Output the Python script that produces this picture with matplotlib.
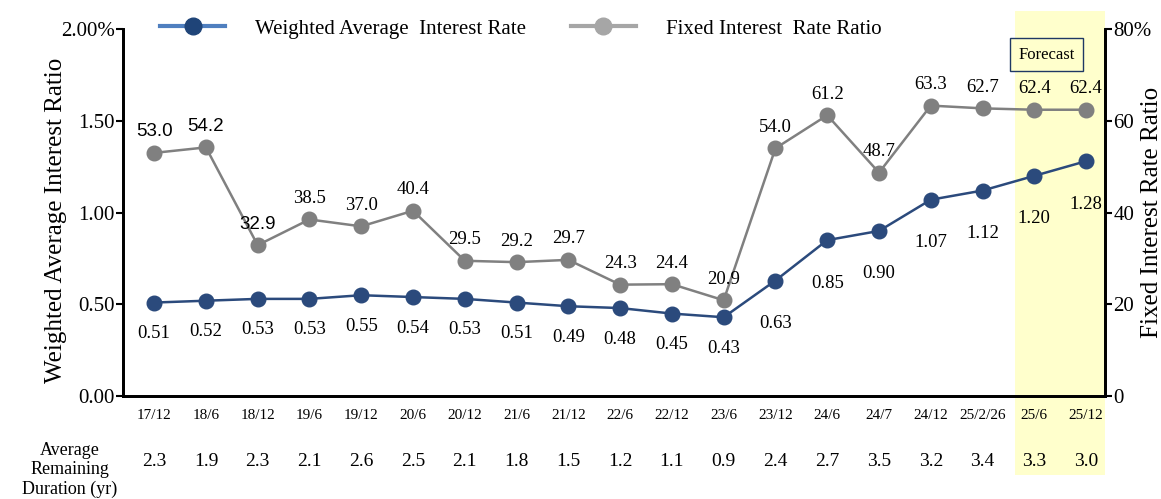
import matplotlib
matplotlib.use('Agg')
import matplotlib.pyplot as plt
import matplotlib.transforms as mtransforms
from matplotlib.lines import Line2D
from matplotlib.patches import Rectangle
import numpy as np

# ── DATA ────────────────────────────────────────────
periods = ["17/12", "18/6", "18/12", "19/6", "19/12", "20/6", "20/12", "21/6", "21/12",
           "22/6", "22/12", "23/6", "23/12", "24/6", "24/7", "24/12", "25/2/26", "25/6", "25/12"]
weighted_rate = [0.51, 0.52, 0.53, 0.53, 0.55, 0.54, 0.53, 0.51, 0.49, 0.48, 0.45, 0.43,
                 0.63, 0.85, 0.90, 1.07, 1.12, 1.20, 1.28]
fixed_ratio = [53.0, 54.2, 32.9, 38.5, 37.0, 40.4, 29.5, 29.2, 29.7, 24.3, 24.4, 20.9,
               54.0, 61.2, 48.7, 63.3, 62.7, 62.4, 62.4]
duration = [2.3, 1.9, 2.3, 2.1, 2.6, 2.5, 2.1, 1.8, 1.5, 1.2, 1.1, 0.9,
            2.4, 2.7, 3.5, 3.2, 3.4, 3.3, 3.0]
n_forecast = 2

SERIF = ['Liberation Serif', 'DejaVu Serif']
SANS = ['Liberation Sans', 'DejaVu Sans']
plt.rcParams['font.family'] = SERIF

BLUE = '#2b4a7c'
GRAY = '#808080'
YELLOW = '#ffffcc'

fig = plt.figure(figsize=(11.61, 4.99), dpi=100)
ax = fig.add_axes([0.106, 0.206, 0.846, 0.736])
ax2 = ax.twinx()

x = np.arange(len(periods))
xmin, xmax = -0.6, len(periods) - 1 + 0.37

# forecast band (spans past the axes, into the table)
trans = mtransforms.blended_transform_factory(ax.transData, fig.transFigure)
fstart = len(periods) - n_forecast - 0.38
band = Rectangle((fstart, 0.048), xmax - fstart, 0.93, transform=trans,
                 facecolor=YELLOW, edgecolor='none', zorder=-1, clip_on=False)
fig.patches.append(band)
ax.patch.set_visible(False)
ax2.patch.set_visible(False)

ax.plot(x, weighted_rate, '-o', color=BLUE, lw=1.8, ms=10.5, zorder=3)
ax2.plot(x, fixed_ratio, '-o', color=GRAY, lw=1.8, ms=10.5, zorder=3)

ax.set_xlim(xmin, xmax)
ax.set_ylim(0, 2.0)
ax2.set_ylim(0, 80)
ax.set_yticks([0, 0.5, 1.0, 1.5, 2.0])
ax.set_yticklabels(['0.00', '0.50', '1.00', '1.50', '2.00%'])
ax2.set_yticks([0, 20, 40, 60, 80])
ax2.set_yticklabels(['0', '20', '40', '60', '80%'])
ax.set_xticks(x)
ax.set_xticklabels(periods, fontsize=11)
ax.tick_params(axis='x', length=0, pad=9)
ax.tick_params(axis='y', labelsize=15, length=5, width=1.5, pad=1)
ax2.tick_params(axis='y', labelsize=15, length=5, width=1.5, pad=1)

for a in (ax, ax2):
    a.spines['top'].set_visible(False)
    for s in ('left', 'right', 'bottom'):
        a.spines[s].set_linewidth(2)
        a.spines[s].set_color('black')

ax.set_ylabel("Weighted Average Interest Ratio", fontsize=18)
ax.yaxis.set_label_coords(-0.057, 0.48)
ax2.set_ylabel("Fixed Interest Rate Ratio", fontsize=18)
ax2.yaxis.set_label_coords(1.036, 0.5)

# point labels
for i, v in enumerate(weighted_rate):
    off = -31 if i < 12 else -43
    ax.annotate(f"{v:.2f}", (x[i], v), textcoords='offset pixels', xytext=(0, off),
                ha='center', va='center', fontsize=13.5, zorder=4)
for i, v in enumerate(fixed_ratio):
    fam = SANS if i in (0, 1, 2) else SERIF
    ax2.annotate(f"{v:.1f}", (x[i], v), textcoords='offset pixels', xytext=(0, 21),
                 ha='center', va='center', fontsize=13.5, family=fam, zorder=4)

# forecast tag
ax.text(len(periods) - 1.76, 1.86, "Forecast", ha='center', va='center', fontsize=12,
        bbox=dict(boxstyle='square,pad=0.5', facecolor=YELLOW, edgecolor='#1f3864', lw=1))

# remaining duration row
for i, d in enumerate(duration):
    ax.text(x[i], 0.075, f"{d:.1f}", transform=trans, ha='center', va='center', fontsize=14)
fig.text(0.060, 0.058, "Average\nRemaining\nDuration (yr)", ha='center', va='center',
         fontsize=13, linespacing=1.2)

# legend
handles = [
    Line2D([0], [0], color='#4f7fbf', lw=3, marker='o', ms=12,
           markerfacecolor='#1f4478', markeredgecolor='#1f4478'),
    Line2D([0], [0], color='#a6a6a6', lw=3, marker='o', ms=12,
           markerfacecolor='#a6a6a6', markeredgecolor='#a6a6a6'),
]
fig.legend(handles, ["Weighted Average  Interest Rate", "Fixed Interest  Rate Ratio"],
           loc='center left', bbox_to_anchor=(0.122, 0.942), ncol=2, frameon=False,
           fontsize=15, handlelength=3.1, handletextpad=1.45, columnspacing=2.15)

fig.savefig('out.png', dpi=100)
